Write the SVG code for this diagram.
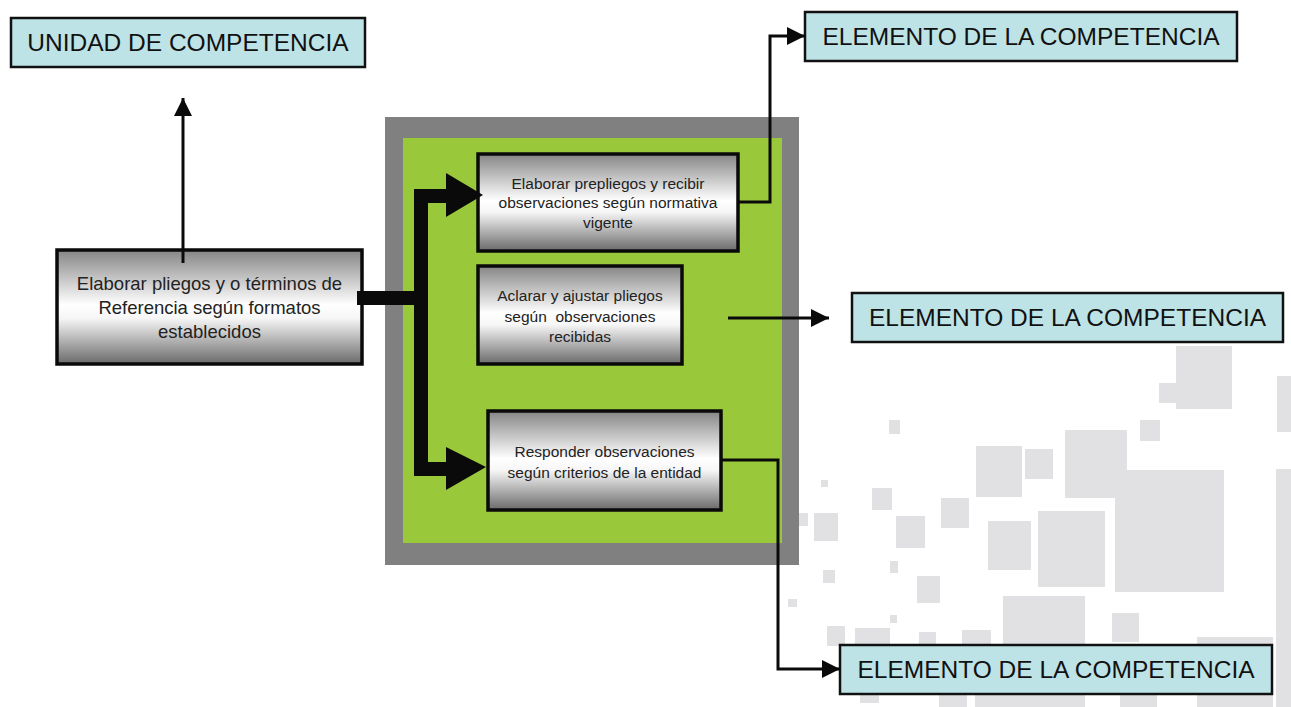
<svg xmlns="http://www.w3.org/2000/svg" width="1291" height="707" viewBox="0 0 1291 707">
<style>
.bg{fill:#e1e1e3}
.lbl{fill:#bee3e6;stroke:#111;stroke-width:2.5}
.proc{fill:url(#metal);stroke:#0a0a0a;stroke-width:3.5}
.big{font-family:"Liberation Sans",Arial,sans-serif;font-size:24.5px;fill:#111;text-anchor:middle}
.mid{font-family:"Liberation Sans",Arial,sans-serif;font-size:18.5px;fill:#222;text-anchor:middle}
.sm{font-family:"Liberation Sans",Arial,sans-serif;font-size:15.5px;fill:#222;text-anchor:middle}
.thin{fill:none;stroke:#0a0a0a;stroke-width:3;stroke-linejoin:miter}
.thick{fill:none;stroke:#0a0a0a;stroke-width:14;stroke-linejoin:miter;stroke-linecap:butt}
.head{fill:#0a0a0a}
</style>
<defs>
<linearGradient id="metal" x1="0" y1="0" x2="0" y2="1">
<stop offset="0" stop-color="#858585"/>
<stop offset="0.48" stop-color="#ffffff"/>
<stop offset="0.6" stop-color="#f6f6f6"/>
<stop offset="1" stop-color="#6a6a6a"/>
</linearGradient>
<marker id="arr" markerUnits="userSpaceOnUse" markerWidth="20" markerHeight="20" refX="18" refY="9" orient="auto">
<path d="M0,0 L18,9 L0,18 z" fill="#0a0a0a"/>
</marker>
</defs>
<rect width="1291" height="707" fill="#ffffff"/>
<g id="background">
<rect class="bg" x="1176" y="346" width="56" height="63"/>
<rect class="bg" x="1159" y="383" width="18" height="20"/>
<rect class="bg" x="1277" y="376" width="14" height="56"/>
<rect class="bg" x="1140" y="420" width="20" height="21"/>
<rect class="bg" x="889" y="420" width="11" height="14"/>
<rect class="bg" x="1065" y="430" width="62" height="68"/>
<rect class="bg" x="1115" y="470" width="109" height="122"/>
<rect class="bg" x="976" y="446" width="46" height="51"/>
<rect class="bg" x="1025" y="449" width="28" height="30"/>
<rect class="bg" x="1276" y="469" width="15" height="238"/>
<rect class="bg" x="821" y="480" width="7" height="7"/>
<rect class="bg" x="872" y="488" width="20" height="22"/>
<rect class="bg" x="941" y="498" width="28" height="30"/>
<rect class="bg" x="799" y="513" width="9" height="13"/>
<rect class="bg" x="814" y="513" width="24" height="28"/>
<rect class="bg" x="896" y="516" width="29" height="32"/>
<rect class="bg" x="988" y="521" width="43" height="49"/>
<rect class="bg" x="1038" y="511" width="67" height="76"/>
<rect class="bg" x="890" y="561" width="8" height="12"/>
<rect class="bg" x="823" y="570" width="12" height="13"/>
<rect class="bg" x="917" y="576" width="23" height="27"/>
<rect class="bg" x="788" y="599" width="9" height="8"/>
<rect class="bg" x="1003" y="596" width="82" height="111"/>
<rect class="bg" x="1112" y="613" width="27" height="29"/>
<rect class="bg" x="890" y="615" width="7" height="8"/>
<rect class="bg" x="827" y="626" width="18" height="20"/>
<rect class="bg" x="855" y="628" width="35" height="20"/>
<rect class="bg" x="919" y="632" width="17" height="16"/>
<rect class="bg" x="962" y="630" width="29" height="18"/>
<rect class="bg" x="1197" y="637" width="76" height="70"/>
<rect class="bg" x="860" y="694" width="19" height="9"/>
<rect class="bg" x="939" y="694" width="28" height="13"/>
<rect class="bg" x="975" y="694" width="39" height="13"/>
<rect class="bg" x="1120" y="694" width="37" height="13"/>
</g>
<g id="frame">
<rect x="385" y="117" width="414" height="448" fill="#808080"/>
<rect x="403" y="138" width="379" height="405" fill="#99c93b"/>
</g>
<g id="unidad">
<rect class="lbl" x="11" y="18" width="354" height="49"/>
<text class="big" x="188" y="51">UNIDAD DE COMPETENCIA</text>
</g>
<g id="elem1">
<rect class="lbl" x="805" y="12" width="432" height="49"/>
<text class="big" x="1021" y="45">ELEMENTO DE LA COMPETENCIA</text>
</g>
<g id="elem2">
<rect class="lbl" x="852" y="293" width="431" height="49"/>
<text class="big" x="1067.5" y="326">ELEMENTO DE LA COMPETENCIA</text>
</g>
<g id="elem3">
<rect class="lbl" x="840" y="645" width="432" height="49"/>
<text class="big" x="1056" y="678">ELEMENTO DE LA COMPETENCIA</text>
</g>
<g id="main">
<rect class="proc" x="57" y="250" width="305" height="114"/>
<text class="mid" x="209.5" y="290">Elaborar pliegos y o términos de</text>
<text class="mid" x="209.5" y="314">Referencia según formatos</text>
<text class="mid" x="209.5" y="338">establecidos</text>
</g>
<g id="task1">
<rect class="proc" x="478" y="154" width="260" height="97"/>
<text class="sm" x="608" y="189">Elaborar prepliegos y recibir</text>
<text class="sm" x="608" y="208">observaciones según normativa</text>
<text class="sm" x="608" y="228">vigente</text>
</g>
<g id="task2">
<rect class="proc" x="478" y="266" width="204" height="98"/>
<text class="sm" x="580" y="301">Aclarar y ajustar pliegos</text>
<text class="sm" x="580" y="322" xml:space="preserve">según  observaciones</text>
<text class="sm" x="580" y="342">recibidas</text>
</g>
<g id="task3">
<rect class="proc" x="488" y="411" width="233" height="99"/>
<text class="sm" x="604.5" y="457">Responder observaciones</text>
<text class="sm" x="604.5" y="478">según criterios de la entidad</text>
</g>
<g id="connectors">
<path class="thin" d="M183,263 V98" marker-end="url(#arr)"/>
<path class="thick" d="M357,298 H428"/>
<path class="thick" d="M448,196 H421 V469 H448"/>
<polygon class="head" points="446,173 483,195 446,217"/>
<polygon class="head" points="446,447 486,467 446,490"/>
<path class="thin" d="M738,202 H770 V36 H805" marker-end="url(#arr)"/>
<path class="thin" d="M728,318 H829" marker-end="url(#arr)"/>
<path class="thin" d="M721,460 H778 V669 H840" marker-end="url(#arr)"/>
</g>
</svg>
